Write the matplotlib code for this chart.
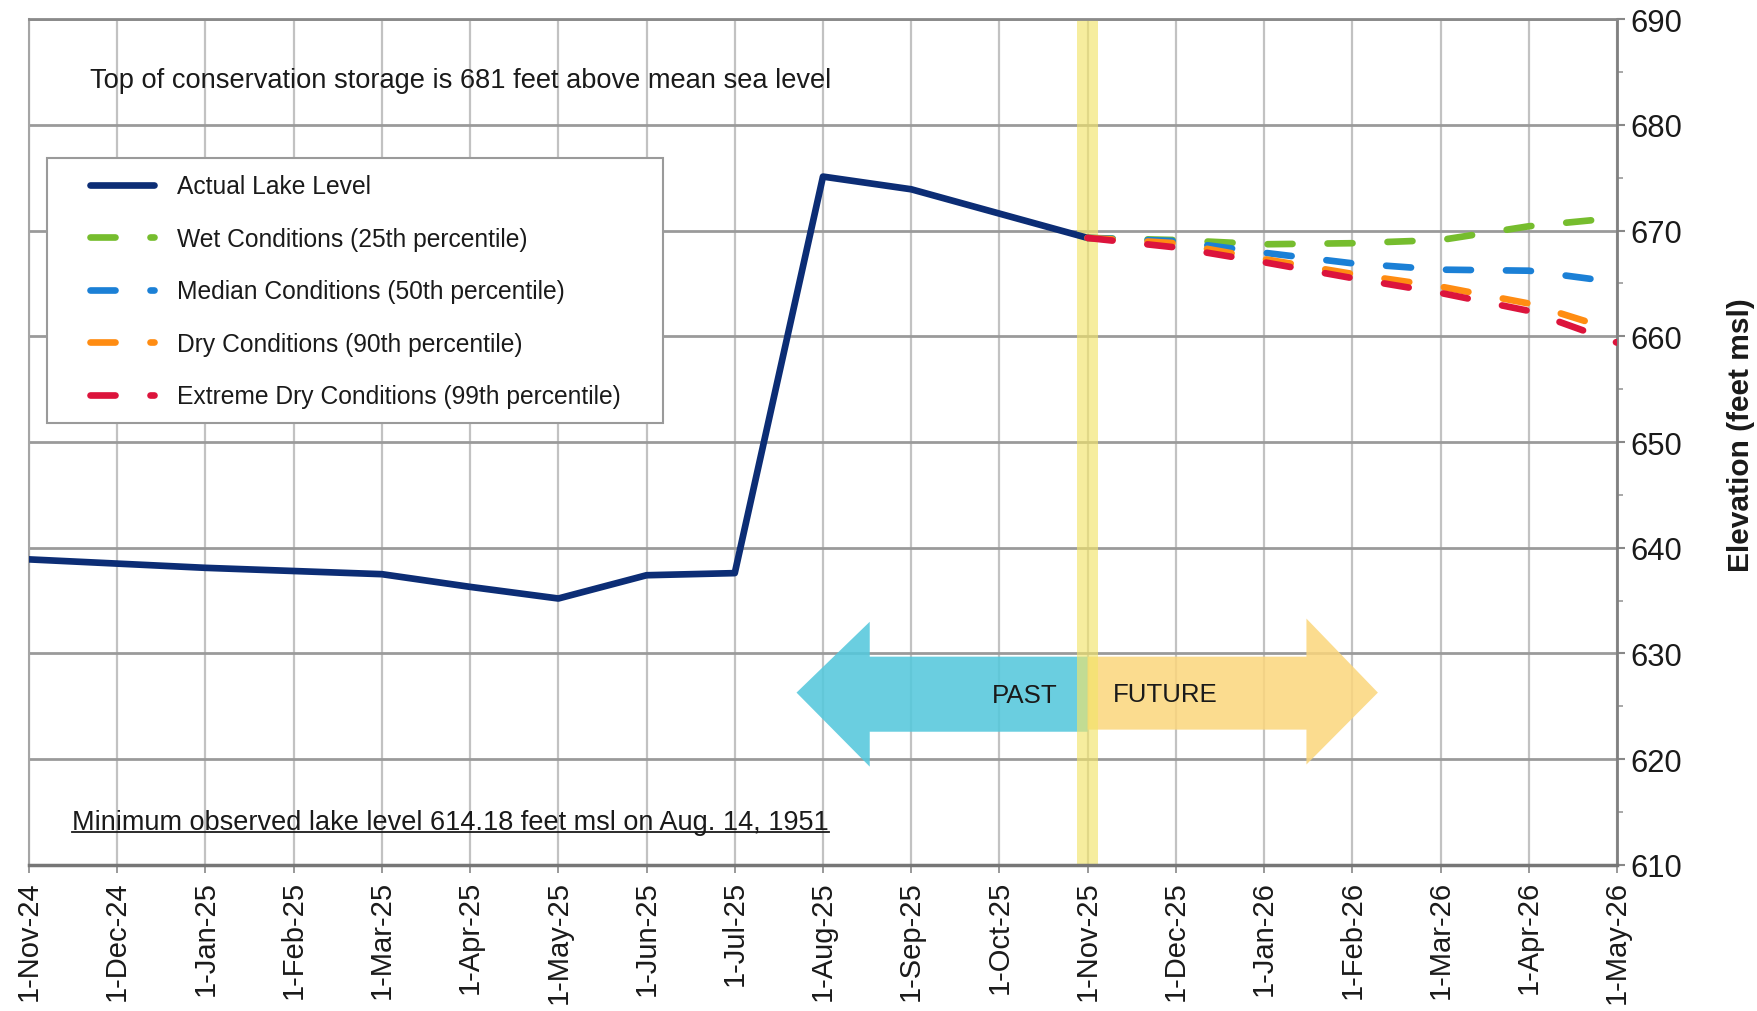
import matplotlib
matplotlib.use('Agg')
import matplotlib.pyplot as plt
from matplotlib.patches import Polygon, Rectangle

plt.rcParams['font.family'] = ['Liberation Sans', 'DejaVu Sans']

# month labels along the (evenly spaced) category axis
months = ['1-Nov-24', '1-Dec-24', '1-Jan-25', '1-Feb-25', '1-Mar-25', '1-Apr-25',
          '1-May-25', '1-Jun-25', '1-Jul-25', '1-Aug-25', '1-Sep-25', '1-Oct-25',
          '1-Nov-25', '1-Dec-25', '1-Jan-26', '1-Feb-26', '1-Mar-26', '1-Apr-26',
          '1-May-26']

# observed lake level, Nov-24 .. Nov-25
actual_idx = list(range(0, 13))
actual_level = [638.9, 638.5, 638.1, 637.8, 637.5, 636.3, 635.2, 637.4, 637.6,
                675.1, 673.9, 671.6, 669.3]

# projections, Nov-25 .. May-26
proj_idx = list(range(12, 19))
wet_level = [669.3, 669.1, 668.7, 668.8, 669.1, 670.4, 671.2]
median_level = [669.3, 669.0, 667.9, 666.9, 666.3, 666.2, 665.1]
dry_level = [669.3, 668.8, 667.3, 665.9, 664.7, 663.1, 660.5]
extreme_level = [669.3, 668.4, 667.0, 665.5, 664.1, 662.4, 659.4]

y_ticks = list(range(610, 691, 10))

fig = plt.figure(figsize=(17.57, 10.12), dpi=100)
ax = fig.add_axes([0.0165, 0.1443, 0.9038, 0.8359])
ax.set_xlim(0, 18)
ax.set_ylim(610, 690)

# past / future arrows
past = Polygon([(12.0, 629.7), (9.53, 629.7), (9.53, 633.0), (8.70, 626.3),
                (9.53, 619.3), (9.53, 622.6), (12.0, 622.6)],
               closed=True, facecolor='#55c8dc', edgecolor='none', alpha=0.88, zorder=2)
future = Polygon([(12.0, 629.7), (14.48, 629.7), (14.48, 633.3), (15.29, 626.3),
                  (14.48, 619.5), (14.48, 622.8), (12.0, 622.8)],
                 closed=True, facecolor='#fbd67c', edgecolor='none', alpha=0.85, zorder=2)
ax.add_patch(past)
ax.add_patch(future)
ax.text(11.29, 626.1, 'PAST', fontsize=18.6, ha='center', va='center', color='#1a1a1a', zorder=3)
ax.text(12.88, 626.2, 'FUTURE', fontsize=18.6, ha='center', va='center', color='#1a1a1a', zorder=3)

# current-date band
ax.axvspan(11.885, 12.115, color='#f2e46a', alpha=0.65, lw=0, zorder=2.2)

dash = (3.75, 5.25)
ax.plot(actual_idx, actual_level, color='#0c2d75', lw=4.8, solid_capstyle='round',
        solid_joinstyle='round', zorder=4, label='Actual Lake Level')
ax.plot(proj_idx, wet_level, color='#76bd2e', lw=4.8, dashes=dash, dash_capstyle='round',
        zorder=4, label='Wet Conditions (25th percentile)')
ax.plot(proj_idx, median_level, color='#1b80d6', lw=4.8, dashes=dash, dash_capstyle='round',
        zorder=4, label='Median Conditions (50th percentile)')
ax.plot(proj_idx, dry_level, color='#ff8c12', lw=4.8, dashes=dash, dash_capstyle='round',
        zorder=4, label='Dry Conditions (90th percentile)')
ax.plot(proj_idx, extreme_level, color='#dc143c', lw=4.8, dashes=dash, dash_capstyle='round',
        zorder=4, label='Extreme Dry Conditions (99th percentile)')

# axes styling
ax.set_xticks(range(len(months)))
ax.set_xticklabels(months, rotation=90)
ax.yaxis.tick_right()
ax.yaxis.set_label_position('right')
ax.set_yticks(y_ticks)
ax.set_yticks([v + 5 for v in y_ticks[:-1]], minor=True)
ax.tick_params(axis='x', length=6, width=1.4, color='#999999', labelsize=21, pad=5,
               labelcolor='#1a1a1a')
ax.tick_params(axis='y', which='major', length=6, width=1.5, color='#888888',
               labelsize=22.3, pad=4, labelcolor='#1a1a1a')
ax.tick_params(axis='y', which='minor', length=4, width=1.2, color='#999999')
ax.yaxis.grid(True, color='#9a9a9a', lw=2.0)
ax.xaxis.grid(True, color='#c2c2c2', lw=1.6)
ax.set_ylabel('Elevation (feet msl)', fontsize=21.5, fontweight='bold', color='#1a1a1a')
ax.yaxis.set_label_coords(1.069, 0.5097)

ax.spines['top'].set_color('#8a8a8a')
ax.spines['top'].set_linewidth(2)
ax.spines['left'].set_color('#a5a5a5')
ax.spines['left'].set_linewidth(1.5)
ax.spines['bottom'].set_color('#767676')
ax.spines['bottom'].set_linewidth(2.5)
ax.spines['right'].set_color('#808080')
ax.spines['right'].set_linewidth(2)

# legend with its own square frame
ax.add_patch(Rectangle((0.0113, 0.5225), 0.388, 0.3135, transform=ax.transAxes,
                       facecolor='white', edgecolor='#9a9a9a', lw=1.5, zorder=5))
leg = ax.legend(loc='upper left', bbox_to_anchor=(0.0384, 0.8165), frameon=False,
                fontsize=17.7, handlelength=2.62, handletextpad=0.9, labelspacing=1.16,
                borderpad=0, borderaxespad=0)
leg.set_zorder(6)
for t in leg.get_texts():
    t.set_color('#1a1a1a')

# notes
ax.text(0.69, 684.2, 'Top of conservation storage is 681 feet above mean sea level',
        fontsize=19.6, va='center', ha='left', color='#1a1a1a', zorder=3)
note = ax.text(0.49, 613.4, 'Minimum observed lake level 614.18 feet msl on Aug. 14, 1951',
               fontsize=19.5, va='baseline', ha='left', color='#1a1a1a', zorder=3)

fig.canvas.draw()
bb = note.get_window_extent(renderer=fig.canvas.get_renderer())
inv = ax.transData.inverted()
x0 = inv.transform((bb.x0, 0))[0]
x1 = inv.transform((bb.x1, 0))[0]
ax.plot([x0, x1], [613.1, 613.1], color='#1a1a1a', lw=1.3, zorder=3)

fig.savefig('out.png', dpi=100)
